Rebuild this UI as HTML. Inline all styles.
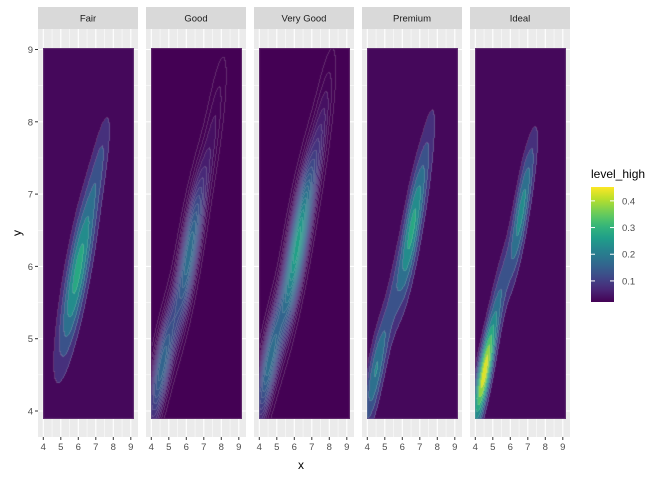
<!DOCTYPE html>
<html><head><meta charset="utf-8">
<style>
body{margin:0;background:#fff;width:672px;height:480px;overflow:hidden;position:relative;font-family:"Liberation Sans",sans-serif}
svg{position:absolute;left:0;top:0}
canvas{position:absolute}
</style></head>
<body>
<svg id="chart" width="672" height="480"></svg>
<script>
// ---- data ----
const facets = ["Fair","Good","Very Good","Premium","Ideal"];
// Gaussian components per facet: [meanX, meanY, peak, sdX, sdY, rho]
const fairComps = [[6.0,5.95,0.27,0.75,0.85,0.82],[7.3,7.5,0.07,0.45,0.5,0.75]];
const goodComps = [[6.2,6.2,0.19,0.6,0.75,0.8],[4.6,4.6,0.17,0.55,0.6,0.78],[7.6,7.9,0.04,0.5,0.7,0.75]];
const veryGoodComps = [[6.2,6.3,0.28,0.65,0.8,0.82],[4.55,4.65,0.18,0.55,0.6,0.78],[7.6,7.9,0.05,0.5,0.7,0.75]];
const premiumComps = [[6.55,6.5,0.26,0.55,0.7,0.8],[4.5,4.55,0.2,0.5,0.55,0.78],[7.5,7.6,0.05,0.45,0.7,0.75],[5.5,5.6,0.07,0.4,0.5,0.75]];
const idealComps = [[4.5,4.5,0.42,0.45,0.5,0.8],[5.4,5.6,0.12,0.5,0.55,0.8],[6.6,6.7,0.2,0.45,0.6,0.78],[7.2,7.4,0.05,0.4,0.5,0.75]];
const binWidths = [0.05,0.015,0.015,0.05,0.05];
const xTicks = [4,5,6,7,8,9];
const yTicks = [4,5,6,7,8,9];
const legendTicks = [0.1,0.2,0.3,0.4];
const compsByFacet = [fairComps,goodComps,veryGoodComps,premiumComps,idealComps];

const NS="http://www.w3.org/2000/svg";
const svg=document.getElementById('chart');
function el(tag,attrs,parent){const e=document.createElementNS(NS,tag);for(const k in attrs)e.setAttribute(k,attrs[k]);(parent||svg).appendChild(e);return e;}

const vir=[[68,1,84],[72,40,120],[62,74,137],[49,104,142],[38,130,142],[31,158,137],[53,183,121],[109,205,89],[180,222,44],[253,231,37]];
function viridis(t){t=Math.max(0,Math.min(1,t));const s=t*(vir.length-1);const i=Math.min(vir.length-2,Math.floor(s));const f=s-i;return vir[i].map((c,k)=>Math.round(c+(vir[i+1][k]-c)*f));}
const LMIN=0.021, LMAX=0.452;
function lvlColor(v){return viridis((v-LMIN)/(LMAX-LMIN));}

const PT=29,PB=437,PW=100;
function panelLeft(i){return 38+i*108;}
function xs(i,v){return panelLeft(i)+5.3+(v-4)*17.5;}
function ys(v){return 411-(v-4)*72.3;}

function dens(comps,x,y){let s=0;for(const c of comps){const dx=(x-c[0])/c[3],dy=(y-c[1])/c[4],r=c[5];const q=(dx*dx-2*r*dx*dy+dy*dy)/(1-r*r);s+=c[2]*Math.exp(-0.5*q);}return s;}

facets.forEach((name,i)=>{
  const L=panelLeft(i);
  const g=el('g',{});
  
  
  el('rect',{x:L,y:PT,width:PW,height:PB-PT,fill:'#ebebeb'},g);
  for(let v=3.5;v<=9.5;v+=0.5){const x=xs(i,v);if(x<L||x>L+PW)continue;el('line',{x1:x,x2:x,y1:PT,y2:PB,stroke:'#fff','stroke-width':v%1===0?1.1:0.5},g);}
  for(let v=3.5;v<=9.5;v+=0.5){const y=ys(v);if(y<PT||y>PB)continue;el('line',{x1:L,x2:L+PW,y1:y,y2:y,stroke:'#fff','stroke-width':v%1===0?1.1:0.5},g);}
  const s=el('rect',{x:L,y:7,width:PW,height:22,fill:'#d9d9d9'});
  
  
  const t=el('text',{x:L+PW/2,y:21.5,'text-anchor':'middle','font-size':'9.5',fill:'#1a1a1a'});t.textContent=name;
  
  
  xTicks.forEach(v=>{const x=xs(i,v);el('line',{x1:x,x2:x,y1:PB,y2:PB+3,stroke:'#333'});const tt=el('text',{x:x,y:PB+13,'text-anchor':'middle','font-size':'9.5',fill:'#4d4d4d'});tt.textContent=v;
    
    });
  // density raster
  const x0=3.97,x1=9.18,y0=3.89,y1=9.02;
  const cl=Math.round(xs(i,x0)),cr=Math.round(xs(i,x1)),ct=Math.round(ys(y1)),cb=Math.round(ys(y0));
  const W=cr-cl,H=cb-ct;
  const cv=document.createElement('canvas');cv.width=W;cv.height=H;cv.style.left=cl+'px';cv.style.top=ct+'px';
  
  
  document.body.appendChild(cv);
  const ctx=cv.getContext('2d');const img=ctx.createImageData(W,H);
  const bw=binWidths[i];const bins=new Int16Array(W*H);
  for(let py=0;py<H;py++)for(let px=0;px<W;px++){
    const dx=(cl+px+0.5-(L+5.3))/17.5+4, dy=4+(411-(ct+py+0.5))/72.3;
    const f=dens(compsByFacet[i],dx,dy);bins[py*W+px]=Math.max(1,Math.ceil(f/bw));}
  for(let py=0;py<H;py++)for(let px=0;px<W;px++){
    const b=bins[py*W+px];let c=lvlColor(b*bw-0.02);
    const edge=(px<W-1&&bins[py*W+px+1]!==b)||(py<H-1&&bins[(py+1)*W+px]!==b)||px===0||py===0||px===W-1||py===H-1;
    if(edge)c=c.map(v=>Math.round(v*0.78+255*0.22*0.8));
    const k=(py*W+px)*4;img.data[k]=c[0];img.data[k+1]=c[1];img.data[k+2]=c[2];img.data[k+3]=255;}
  ctx.putImageData(img,0,0);
});
// y axis
yTicks.forEach(v=>{const y=ys(v);el('line',{x1:35,x2:38,y1:y,y2:y,stroke:'#333'});const t=el('text',{x:33,y:y+3.5,'text-anchor':'end','font-size':'9.5',fill:'#4d4d4d'});t.textContent=v;
  
  });
const xt=el('text',{x:301,y:469,'text-anchor':'middle','font-size':'12',fill:'#000'});xt.textContent='x';

const yt=el('text',{x:18,y:236,'text-anchor':'middle','font-size':'12',fill:'#000',transform:'rotate(-90 18 233)'});yt.textContent='y';

// legend
const lg=el('g',{});
const ltitle=el('text',{x:591,y:178,'font-size':'12',fill:'#000'},lg);ltitle.textContent='level_high';
const defs=el('defs',{},lg);const grad=el('linearGradient',{id:'vg',x1:0,y1:1,x2:0,y2:0},defs);
for(let k=0;k<=20;k++){const c=viridis(k/20);el('stop',{offset:(k/20),'stop-color':'rgb('+c.join(',')+')'},grad);}
el('rect',{x:591,y:187,width:23,height:115,fill:'url(#vg)'},lg);
function ly(v){return 302-(v-LMIN)/(LMAX-LMIN)*115;}
legendTicks.forEach(v=>{const y=ly(v);el('line',{x1:591,x2:595,y1:y,y2:y,stroke:'#fff'},lg);el('line',{x1:610,x2:614,y1:y,y2:y,stroke:'#fff'},lg);
  const t=el('text',{x:622,y:y+3.5,'font-size':'9.5',fill:'#4d4d4d'},lg);t.textContent=v.toFixed(1);
  
  });
</script>
</body></html>
